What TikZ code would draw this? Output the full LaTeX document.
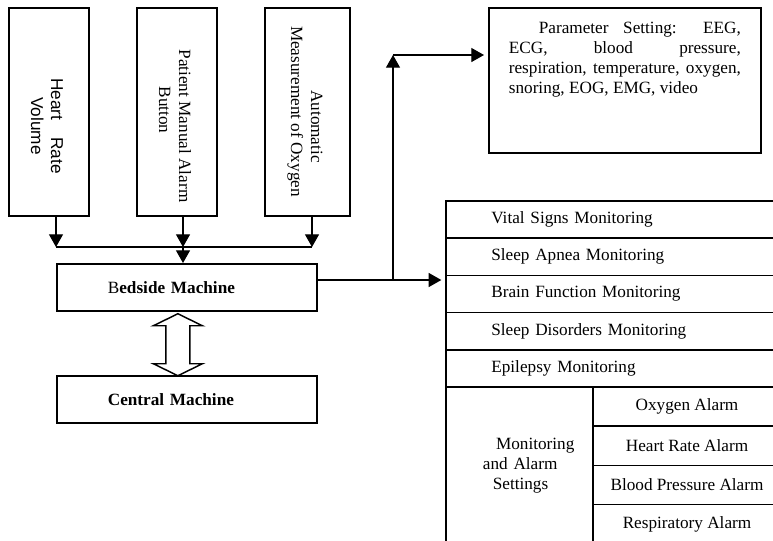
\documentclass[tikz,border=0pt]{standalone}
\usepackage{fontspec}
\setmainfont{Liberation Serif}
\setsansfont{Liberation Sans}
\usetikzlibrary{arrows.meta,calc,positioning}
\tikzset{
    txt/.style = {font=\fontsize{12.9}{15}\selectfont},
    frame/.style = {draw, rectangle, line width=1.3pt},
    line/.style = {-{Triangle[length=9.5pt,width=10.5pt]}, line width=0.9pt}
}

\begin{document}
\begin{tikzpicture}[
    x=0.75pt, y=-0.75pt,
    blk/.style={frame, anchor=north west, minimum width=60pt, minimum height=156pt},
    vlab/.style={txt, rotate=-90, align=center, inner sep=0pt},
    mach/.style={frame, txt, anchor=north west, text width=118.5pt, inner xsep=38.25pt,
        minimum height=35.25pt, align=left},
    row/.style={frame, txt, outer sep=0pt, text width=183.25pt, inner xsep=34pt,
        inner ysep=0pt, minimum height=27.9pt, align=left},
    alm/.style={frame, txt, outer sep=0pt, minimum width=141pt, minimum height=29.4pt,
        inner sep=0pt, align=center},
    dbl/.style={draw, line width=1.1pt, fill=white, line join=miter}
]
\path[use as bounding box] (0,0) rectangle (773,540);
\clip (0,0) rectangle (773,540);

% inputs
\node[blk] (hrv) at (8,7) {};
\node[blk] (pmab) at (136,7) {};
\node[blk, minimum width=63.75pt] (aoxy) at (264,7) {};
\node[vlab, font=\sffamily\fontsize{12.9}{15}\selectfont] (hrvlab) at (47,126) {Heart\hspace{1em}Rate\\Volume};
\node[vlab] (pmablab) at (175,126) {Patient Manual Alarm\\Button\hspace*{24pt}};
\node[vlab] (aoxylab) at (305,111.5) {\hspace*{22.5pt}Automatic\\Measurement of Oxygen};

% machines
\node[mach] (bed) at (56,263) {{B}\textbf{edside Machine}};
\node[mach, font=\bfseries\fontsize{12.9}{15}\selectfont] (cen) at (56,375) {Central Machine};

% two-way link
\draw[dbl] ($(bed.south)+(-9,2)$) -- ++(24.5,12) -- ++(-12.5,0) -- ++(0,38)
    -- ++(12.5,0) -- ++(-24.5,12) -- ++(-24.5,-12) -- ++(12.5,0) -- ++(0,-38)
    -- ++(-12.5,0) -- cycle;

% parameter box
\node[frame, anchor=north west, minimum width=204pt, minimum height=108.75pt] (par) at (488,7) {};
\node[txt, below=11.25pt of par.north, text width=174pt, align=justify, inner sep=0pt] (partxt)
    {\hspace*{22.5pt}Parameter Setting: EEG,\linebreak ECG, blood pressure,\linebreak
     respiration, temperature, oxygen,\linebreak snoring, EOG, EMG, video};

% monitoring table
\node[row, anchor=north west] (vital) at (446,201) {Vital Signs Monitoring};
\node[row, below=0pt of vital] (apnea) {Sleep Apnea Monitoring};
\node[row, below=0pt of apnea] (brain) {Brain Function Monitoring};
\node[row, below=0pt of brain] (sleepd) {Sleep Disorders Monitoring};
\node[row, below=0pt of sleepd] (epil) {Epilepsy Monitoring};
\node[frame, txt, outer sep=0pt, below=0pt of epil.south west, anchor=north west,
    text width=90pt, inner xsep=10.125pt, minimum height=117.6pt, align=left] (malarm)
    {\hspace*{27.4pt}Monitoring\\\hspace*{17.6pt}and Alarm\\\hspace*{25pt}Settings};
\node[alm, anchor=north west] (oxal) at (malarm.north east) {Oxygen Alarm};
\node[alm, below=0pt of oxal] (hral) {Heart Rate Alarm};
\node[alm, below=0pt of hral] (bpal) {Blood Pressure Alarm};
\node[alm, below=0pt of bpal] (resal) {Respiratory Alarm};

% connectors
\coordinate (j1) at (56,247);
\coordinate (j2) at (183,247);
\coordinate (j3) at (312,247);
\coordinate (split) at (393,280);
\coordinate (corner) at (393,55);
\draw[line] (hrv.south -| j1) -- (j1);
\draw[line] (pmab.south -| j2) -- (j2);
\draw[line] (aoxy.south -| j3) -- (j3);
\draw[line width=0.9pt] (j1) -- (j3);
\draw[line] (j2) -- (j2 |- bed.north);
\draw[line, shorten >=3.5pt] (bed.east |- split) -- (apnea.west |- split);
\draw[line] (split) -- (corner);
\draw[line, shorten >=3pt] (corner) -- (par.west |- corner);
\end{tikzpicture}
\end{document}
